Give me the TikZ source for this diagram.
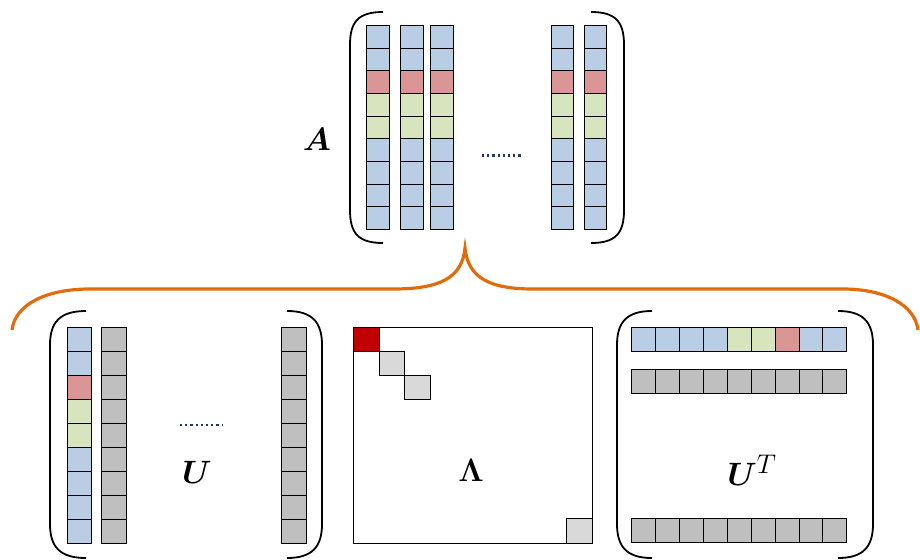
\documentclass[tikz,border=0pt]{standalone}
\usepackage{amsmath,bm}
\definecolor{cb}{HTML}{B9CDE5}
\definecolor{cr}{HTML}{D99694}
\definecolor{cg}{HTML}{D7E4BD}
\definecolor{cy}{HTML}{BFBFBF}
\definecolor{cl}{HTML}{D9D9D9}
\definecolor{dred}{HTML}{C00000}
\definecolor{brace}{HTML}{E36C0A}
\definecolor{dotc}{HTML}{1F3864}
\tikzset{
  cell/.style={draw=black, line width=0.9pt},
  paren/.style={draw=black, line width=1.8pt},
  orbrace/.style={draw=brace, line width=3.2pt},
  dotline/.style={draw=dotc, line width=2.2pt, dash pattern=on 2.2pt off 3pt},
  lab/.style={inner sep=0pt, font=\Huge, scale=1.3, transform shape}
}
\begin{document}
\begin{tikzpicture}[x=1pt,y=-1pt]
\useasboundingbox (0,0) rectangle (920,559);
% ---------- A ----------
\foreach \x in {366.7,400.3,430.7,551,584}{
  \foreach \c [count=\i from 0] in {cb,cb,cr,cg,cg,cb,cb,cb,cb}{
    \filldraw[cell, fill=\c] (\x,25.3+\i*22.67) rectangle ++(22.67,22.67);
  }
}
\draw[paren] (383,12) .. controls (358,12) and (350,22) .. (350,45) -- (350,210) .. controls (350,233) and (358,243) .. (383,243);
\draw[paren] (591,12) .. controls (616,12) and (624,22) .. (624,45) -- (624,210) .. controls (624,233) and (616,243) .. (591,243);
\coordinate (ad1) at (482,155.5);
\coordinate (ad2) at (523,155.5);
\draw[dotline] (ad1) -- (ad2);
\node[lab] (A) at (317,139) {$\bm{A}$};
% ---------- brace ----------
\draw[orbrace] (12,330) .. controls (15,305) and (45,289) .. (90,289) -- (393,289)
  .. controls (440,289) and (462,278) .. (465,248)
  .. controls (468,278) and (490,289) .. (533,289) -- (843,289)
  .. controls (885,289) and (915,305) .. (918,330);
% ---------- U ----------
\foreach \c [count=\i from 0] in {cb,cb,cr,cg,cg,cb,cb,cb,cb}{
  \filldraw[cell, fill=\c] (67.3,327.3+\i*24) rectangle ++(23.7,24);
}
\foreach \x in {101.7,281.7}{
  \foreach \i in {0,...,8}{
    \filldraw[cell, fill=cy] (\x,327.3+\i*24) rectangle ++(24.3,24);
  }
}
\draw[paren] (86,311) .. controls (60,311) and (50,322) .. (50,345) -- (50,524) .. controls (50,547) and (60,558) .. (86,558);
\draw[paren] (287,311) .. controls (312,311) and (322,322) .. (322,345) -- (322,524) .. controls (322,547) and (312,558) .. (287,558);
\coordinate (ud1) at (180,425);
\coordinate (ud2) at (223,425);
\draw[dotline] (ud1) -- (ud2);
\node[lab] (U) at (197,472) {$\bm{U}$};
% ---------- Lambda ----------
\draw[black, line width=0.9pt] (353.3,327.3) rectangle (592.3,543.3);
\filldraw[cell, fill=dred] (353.3,327.3) rectangle (379.3,351.3);
\filldraw[cell, fill=cl] (379.3,351.3) rectangle (404.3,375.3);
\filldraw[cell, fill=cl] (404.3,375.3) rectangle (430.3,399.3);
\filldraw[cell, fill=cl] (566.7,518.3) rectangle (592.3,543.3);
\node[lab] (L) at (471,470) {$\bm{\Lambda}$};
% ---------- U^T ----------
\foreach \c [count=\i from 0] in {cb,cb,cb,cb,cg,cg,cr,cb,cb}{
  \filldraw[cell, fill=\c] (631.7+\i*23.9,327.7) rectangle ++(23.9,23.5);
}
\foreach \y in {369.3,518.5}{
  \foreach \i in {0,...,8}{
    \filldraw[cell, fill=cy] (631.7+\i*23.9,\y) rectangle ++(23.9,24);
  }
}
\draw[paren] (652,311) .. controls (627,311) and (617,322) .. (617,345) -- (617,524) .. controls (617,547) and (627,558) .. (652,558);
\draw[paren] (838,311) .. controls (863,311) and (873,322) .. (873,345) -- (873,524) .. controls (873,547) and (863,558) .. (838,558);
\node[lab] (UT) at (752,470) {$\bm{U}^{T}$};
\end{tikzpicture}
\end{document}
